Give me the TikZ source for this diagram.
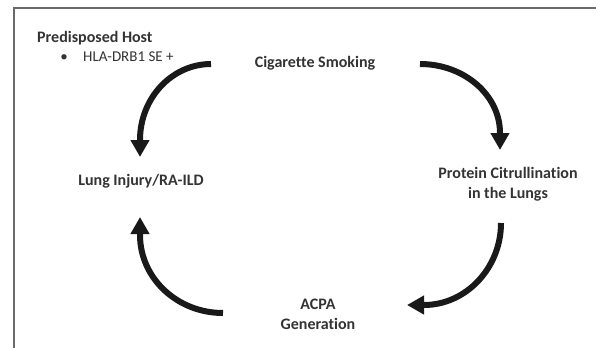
\documentclass[tikz,border=0pt]{standalone}
\usepackage{fontspec}
\setmainfont[Ligatures=NoCommon]{Carlito}
\usetikzlibrary{arrows.meta}
\definecolor{txt}{gray}{0.2}
\definecolor{frame}{gray}{0.42}
\tikzset{
  lbl/.style={font=\bfseries\fontsize{16}{20}\selectfont, text=txt, inner sep=0pt, align=center},
  smalltxt/.style={font=\fontsize{15}{17}\selectfont, text=txt, inner sep=0pt},
  bigarrow/.style={line width=6pt, black!90, -{Triangle[length=17pt,width=18pt]}}
}
\begin{document}
\begin{tikzpicture}[x=1pt,y=-1pt]
\useasboundingbox (0,0) rectangle (597,348);
\draw[frame, line width=1.4pt] (14,348) -- (14,8) -- (596,8);
% texts
\node[lbl, anchor=base west] (host) at (37,42.5) {Predisposed Host};
\node[smalltxt, anchor=base] (bul) at (64,61) {\textbullet};
\node[smalltxt, anchor=base west] (hla) at (83,61) {HLA-DRB1 SE +};
\node[lbl, anchor=base] (smoke) at (315,67) {Cigarette Smoking};
\node[lbl] (cit) at (508,184) {Protein Citrullination\\in the Lungs};
\node[lbl, anchor=base] (lung) at (141,185) {Lung Injury/RA-ILD};
\node[lbl] (acpa) at (318,314.5) {ACPA\\Generation};
% arrow endpoints
\coordinate (a1s) at (211,64);  \coordinate (a1e) at (140,157);
\coordinate (a2s) at (420,64);  \coordinate (a2e) at (500,150);
\coordinate (a3s) at (501,223); \coordinate (a3e) at (407,305);
\coordinate (a4s) at (223,313); \coordinate (a4e) at (140,217);
\draw[bigarrow] (a1s) .. controls (172,64) and (140,98) .. (140,140) -- (a1e);
\draw[bigarrow] (a2s) .. controls (464,64) and (500,95) .. (500,133) -- (a2e);
\draw[bigarrow] (a3s) .. controls (501,268) and (466,305) .. (424,305) -- (a3e);
\draw[bigarrow] (a4s) .. controls (177,313) and (140,278) .. (140,235) -- (a4e);
\end{tikzpicture}
\end{document}
